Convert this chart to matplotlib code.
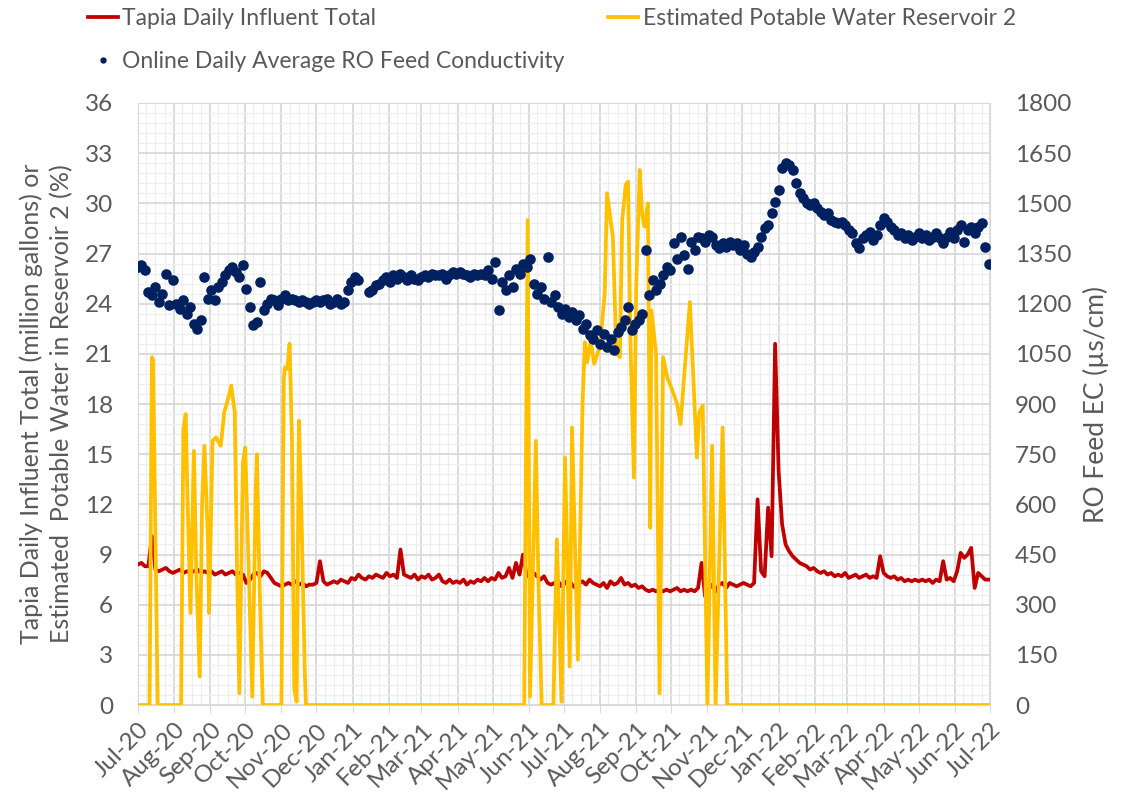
#!/usr/bin/python
# Plot Tapia influent, reservoir 2 potable water and RO feed conductivity

import matplotlib
matplotlib.use('Agg')
import matplotlib.pyplot as plt
import matplotlib.dates as mdates
from matplotlib.ticker import MultipleLocator
import numpy as np
import pandas as pd

outFile = 'out.png'

# sampling: every 3 days from 1 Jul 2020
start = '2020-07-01'
step_days = 3

# Tapia daily influent total (million gallons), every 3 days
influent = [
    8.4, 8.5, 8.3, 8.3, 10.1, 8.1, 8.0, 8.1, 8.2, 8.0,
    7.9, 8.0, 8.1, 7.9, 8.0, 7.9, 8.0, 8.1, 7.9, 8.0,
    7.9, 8.0, 7.8, 7.9, 8.0, 7.8, 7.9, 8.0, 7.8, 7.9,
    7.8, 7.3, 7.5, 7.8, 7.9, 7.7, 8.0, 7.9, 7.6, 7.3,
    7.2, 7.1, 7.2, 7.3, 7.2, 7.4, 7.2, 7.3, 7.1, 7.2,
    7.2, 7.3, 8.6, 7.4, 7.2, 7.3, 7.4, 7.3, 7.5, 7.4,
    7.3, 7.6, 7.5, 7.8, 7.6, 7.5, 7.7, 7.6, 7.8, 7.7,
    7.6, 7.9, 7.7, 7.8, 7.6, 9.3, 7.8, 7.7, 7.6, 7.8,
    7.5, 7.7, 7.6, 7.8, 7.5, 7.6, 7.8, 7.4, 7.3, 7.5,
    7.3, 7.4, 7.3, 7.5, 7.2, 7.4, 7.3, 7.5, 7.4, 7.6,
    7.4, 7.6, 7.5, 7.9, 7.6, 7.7, 8.2, 7.6, 8.5, 7.8,
    9.0, 7.8, 7.6, 7.9, 7.7, 7.5, 7.7, 7.3, 7.2, 7.3,
    7.4, 7.1, 7.3, 7.5, 7.2, 7.0, 7.3, 7.4, 7.2, 7.5,
    7.3, 7.2, 7.1, 7.3, 7.0, 7.4, 7.2, 7.3, 7.6, 7.2,
    7.3, 7.1, 7.2, 7.0, 7.1, 6.9, 6.8, 6.9, 6.8, 6.9,
    6.8, 6.9, 6.8, 6.9, 7.0, 6.8, 6.9, 6.8, 6.9, 6.8,
    7.0, 8.5, 6.5, 6.9, 7.2, 6.8, 7.2, 7.3, 7.0, 7.3,
    7.2, 7.1, 7.2, 7.3, 7.2, 7.1, 7.3, 12.3, 8.0, 7.7,
    11.8, 8.9, 21.6, 14.0, 10.8, 9.6, 9.2, 8.9, 8.7, 8.5,
    8.4, 8.3, 8.1, 8.2, 8.0, 7.9, 8.0, 7.8, 7.9, 7.7,
    7.8, 7.7, 7.9, 7.6, 7.7, 7.8, 7.6, 7.7, 7.8, 7.6,
    7.7, 7.6, 8.9, 7.9, 7.7, 7.6, 7.7, 7.5, 7.6, 7.4,
    7.5, 7.4, 7.5, 7.4, 7.5, 7.4, 7.5, 7.3, 7.5, 7.4,
    8.6, 7.5, 7.6, 7.4, 8.0, 9.1, 8.8, 9.0, 9.4, 7.0,
    7.9, 7.7, 7.5, 7.5]

# online daily average RO feed conductivity (uS/cm), every 3 days
conductivity = [
    1310, 1315, 1300, 1235, 1225, 1250, 1205, 1230, 1290, 1195,
    1270, 1200, 1185, 1210, 1170, 1190, 1140, 1125, 1150, 1280,
    1215, 1240, 1210, 1250, 1265, 1285, 1300, 1310, 1295, 1280,
    1315, 1245, 1190, 1135, 1145, 1265, 1180, 1200, 1215, 1210,
    1195, 1215, 1225, 1210, 1215, 1210, 1205, 1210, 1205, 1200,
    1205, 1210, 1205, 1210, 1215, 1200, 1205, 1215, 1200, 1205,
    1240, 1265, 1280, 1270, np.nan, np.nan, 1235, 1240, 1255, 1260,
    1270, 1280, 1265, 1285, 1275, 1290, 1280, 1270, 1285, 1275,
    1270, 1280, 1285, 1280, 1290, 1285, 1285, 1290, 1275, 1285,
    1295, 1290, 1295, 1290, 1285, 1280, 1290, 1285, 1290, 1285,
    1300, 1275, 1325, 1180, 1265, 1240, 1285, 1250, 1305, 1290,
    1320, 1310, 1335, 1260, 1230, 1250, 1215, 1340, 1205, 1225,
    1190, 1170, 1185, 1160, 1175, 1150, 1165, 1125, 1140, 1105,
    1095, 1120, 1080, 1110, 1070, 1095, 1060, 1115, 1130, 1150,
    1190, 1120, 1140, 1150, 1170, 1360, 1225, 1270, 1240, 1260,
    1285, 1310, 1300, 1380, 1335, 1400, 1345, 1305, 1385, 1360,
    1400, 1395, 1385, 1405, 1400, 1375, 1365, 1380, 1370, 1385,
    1375, 1380, 1360, 1375, 1350, 1340, 1355, 1370, 1400, 1425,
    1435, 1470, 1505, 1540, 1605, 1620, 1615, 1600, 1560, 1530,
    1515, 1500, 1495, 1500, 1485, 1475, 1465, 1470, 1450, 1445,
    1440, 1445, 1435, 1420, 1410, 1380, 1365, 1395, 1405, 1415,
    1390, 1405, 1435, 1455, 1445, 1430, 1420, 1405, 1410, 1395,
    1405, 1390, 1400, 1410, 1395, 1405, 1390, 1400, 1410, 1395,
    1380, 1400, 1415, 1395, 1420, 1435, 1385, 1420, 1430, 1410,
    1430, 1440, 1370, 1320]

# estimated potable water in reservoir 2 (%), days since 1 Jul 2020
reservoir_day = [
    0, 10, 12, 13, 17, 37, 39, 41, 42, 45, 48, 50, 53, 55, 57, 60, 61, 64,
    67, 71, 74, 78, 80, 83, 85, 87, 90, 92, 95, 98, 101, 102, 104, 107,
    123, 125, 126, 128, 130, 132, 134, 136, 138, 140, 143, 144,
    331, 334, 336, 341, 343, 346, 356, 359, 363, 366, 370, 372, 377, 381,
    383, 385, 388, 391, 396, 400, 402, 405, 407, 410, 413, 415, 418, 420,
    422, 425, 427, 430, 432, 434, 437, 439, 440, 444, 447, 450, 454, 457,
    462, 465, 468, 473, 475, 479, 481, 484, 488, 492, 495, 501, 505, 730]
reservoir = [
    0, 0, 20.8, 20.6, 0, 0, 16.5, 17.4, 14.0, 5.5, 15.2, 8.0, 1.7, 12.0,
    15.5, 10.0, 5.5, 15.8, 16.0, 15.5, 17.5, 18.5, 19.1, 17.5, 8.0, 0.7,
    14.5, 15.4, 8.0, 0.5, 13.0, 15.0, 8.0, 0,
    0, 19.5, 20.2, 20.1, 21.6, 16.0, 1.0, 0.2, 17.0, 12.0, 2.0, 0,
    0, 29.0, 0.5, 15.8, 8.0, 0, 0, 9.9, 0.2, 14.8, 2.3, 16.6, 2.7, 18.0,
    21.7, 20.5, 21.8, 20.4, 21.5, 24.6, 30.6, 29.0, 28.0, 21.0, 20.8, 29.0,
    31.1, 31.3, 22.0, 13.6, 25.0, 32.0, 29.4, 28.6, 30.0, 10.6, 23.6, 21.0,
    0.7, 20.8, 19.5, 19.0, 18.0, 16.8, 19.6, 24.1, 21.0, 14.8, 17.5, 17.9,
    0, 15.5, 0, 16.6, 0, 0]

red = '#C00000'
yellow = '#FFC000'
navy = '#002060'
grey = '#595959'


def main():
    plt.rcParams['font.family'] = ['Lato', 'DejaVu Sans']

    dates = pd.date_range(start, periods=len(influent), freq='%dD' % step_days)
    res_dates = pd.Timestamp(start) + pd.to_timedelta(reservoir_day, unit='D')

    fig = plt.figure(figsize=(11.21, 7.99), dpi=100)
    ax = fig.add_axes([0.123, 0.1176, 0.76, 0.7535])

    l1, = ax.plot(dates, influent, color=red, lw=2.7, zorder=3,
                  label='Tapia Daily Influent Total')
    l2, = ax.plot(res_dates, reservoir, color=yellow, lw=2.7, zorder=4,
                  label='Estimated Potable Water Reservoir 2')

    ax.set_ylim(0, 36)
    ax.set_xlim(pd.Timestamp('2020-07-01'), pd.Timestamp('2022-07-01'))
    ax.yaxis.set_major_locator(MultipleLocator(3))
    ax.yaxis.set_minor_locator(MultipleLocator(0.6))
    ax.xaxis.set_major_locator(mdates.MonthLocator())
    ax.xaxis.set_minor_locator(mdates.DayLocator(bymonthday=[8, 16, 24]))
    ax.xaxis.set_major_formatter(mdates.DateFormatter('%b-%y'))
    ax.grid(which='major', color='#d9d9d9', lw=1.3)
    ax.grid(which='minor', color='#eeeeee', lw=0.9)
    ax.set_axisbelow(True)
    for s in ax.spines.values():
        s.set_color('#d9d9d9')
    ax.tick_params(which='both', length=0, colors=grey, labelsize=17.5)
    ax.tick_params(axis='y', pad=18)
    ax.tick_params(axis='x', which='major', length=6, color='#d9d9d9', pad=4)
    for lab in ax.get_xticklabels():
        lab.set_rotation(45)
        lab.set_ha('right')
        lab.set_rotation_mode('anchor')
    ax.set_ylabel('Tapia Daily Influent Total (million gallons) or\n'
                  'Estimated  Potable Water in Reservoir 2 (%)',
                  color=grey, fontsize=18, labelpad=8, linespacing=1.35)

    ax2 = ax.twinx()
    l3 = ax2.scatter(dates, conductivity, s=58, color=navy, zorder=5,
                     linewidths=0,
                     label='Online Daily Average RO Feed Conductivity')
    ax2.set_ylim(0, 1800)
    ax2.yaxis.set_major_locator(MultipleLocator(150))
    ax2.tick_params(length=0, colors=grey, labelsize=17.5, pad=18)
    for s in ax2.spines.values():
        s.set_visible(False)
    ax2.set_ylabel('RO Feed EC (\u00b5s/cm)', color=grey, fontsize=19, labelpad=8)

    fig.legend([l1, l3, l2], [l1.get_label(), l3.get_label(), l2.get_label()],
               loc='upper left', bbox_to_anchor=(88 / 1121, 0.99), ncol=2,
               frameon=False, fontsize=16.5, labelcolor=grey,
               borderpad=0, borderaxespad=0, scatteryoffsets=[0.5],
               markerscale=0.6,
               handlelength=1.3, handletextpad=0.2, columnspacing=1.9,
               labelspacing=0.95)

    fig.savefig(outFile, dpi=100)


if __name__ == '__main__': main()
